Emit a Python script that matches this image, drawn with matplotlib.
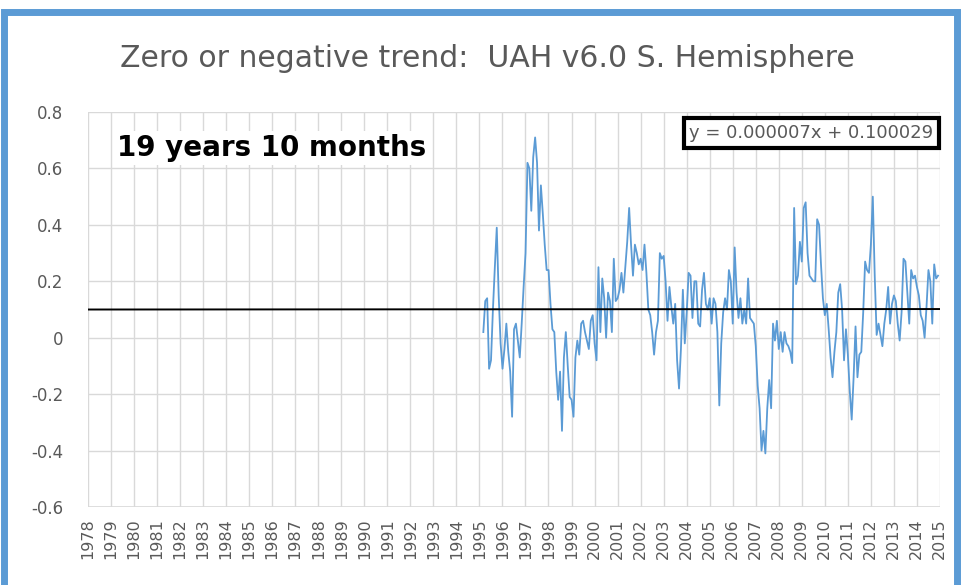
import matplotlib.pyplot as plt
from matplotlib.patches import Rectangle

# UAH v6.0 southern hemisphere anomalies, monthly
start_year = 1995.17
anomaly = [
    0.02, 0.13, 0.14, -0.11, -0.08, 0.10, 0.25, 0.39, 0.15, -0.02,
    -0.11, -0.04, 0.05, -0.05, -0.12, -0.28, 0.03, 0.05, -0.01, -0.07,
    0.05, 0.18, 0.30, 0.62, 0.60, 0.45, 0.64, 0.71, 0.62, 0.38,
    0.54, 0.44, 0.33, 0.24, 0.24, 0.12, 0.03, 0.02, -0.12, -0.22,
    -0.12, -0.33, -0.07, 0.02, -0.10, -0.21, -0.22, -0.28, -0.07, -0.01,
    -0.06, 0.05, 0.06, 0.02, -0.01, -0.04, 0.06, 0.08, -0.02, -0.08,
    0.25, 0.02, 0.21, 0.14, 0.00, 0.16, 0.13, 0.02, 0.28, 0.13,
    0.14, 0.17, 0.23, 0.16, 0.25, 0.34, 0.46, 0.33, 0.22, 0.33,
    0.30, 0.26, 0.28, 0.24, 0.33, 0.23, 0.10, 0.08, 0.02, -0.06,
    0.02, 0.06, 0.30, 0.28, 0.29, 0.20, 0.06, 0.18, 0.11, 0.05,
    0.12, -0.08, -0.18, -0.04, 0.17, -0.02, 0.09, 0.23, 0.22, 0.07,
    0.20, 0.20, 0.05, 0.04, 0.17, 0.23, 0.12, 0.10, 0.14, 0.05,
    0.14, 0.12, 0.02, -0.24, -0.02, 0.09, 0.14, 0.10, 0.24, 0.20,
    0.05, 0.32, 0.16, 0.07, 0.14, 0.05, 0.10, 0.05, 0.21, 0.07,
    0.06, 0.05, -0.03, -0.17, -0.25, -0.40, -0.33, -0.41, -0.25, -0.15,
    -0.25, 0.05, -0.01, 0.06, -0.04, 0.02, -0.05, 0.02, -0.02, -0.03,
    -0.05, -0.09, 0.46, 0.19, 0.22, 0.34, 0.27, 0.46, 0.48, 0.30,
    0.22, 0.21, 0.20, 0.20, 0.42, 0.40, 0.26, 0.14, 0.08, 0.12,
    0.03, -0.07, -0.14, -0.05, 0.02, 0.16, 0.19, 0.10, -0.08, 0.03,
    -0.06, -0.19, -0.29, -0.14, 0.04, -0.14, -0.06, -0.05, 0.09, 0.27,
    0.24, 0.23, 0.33, 0.50, 0.22, 0.01, 0.05, 0.01, -0.03, 0.05,
    0.10, 0.18, 0.05, 0.12, 0.15, 0.13, 0.05, -0.01, 0.09, 0.28,
    0.27, 0.16, 0.05, 0.24, 0.21, 0.22, 0.18, 0.15, 0.08, 0.06,
    0.00, 0.11, 0.24, 0.20, 0.05, 0.26, 0.21, 0.22,
]
months = [start_year + i / 12 for i in range(len(anomaly))]

trend_slope = 0.000007
trend_intercept = 0.100029
years = list(range(1978, 2016))
y_ticks = [-0.6, -0.4, -0.2, 0, 0.2, 0.4, 0.6, 0.8]
y_labels = ['-0.6', '-0.4', '-0.2', '0', '0.2', '0.4', '0.6', '0.8']

gray = '#595959'
fig = plt.figure(figsize=(9.62, 5.85), dpi=100)
ax = fig.add_axes([0.0915, 0.1333, 0.8855, 0.6752])

ax.plot(months, anomaly, color='#5B9BD5', lw=1.3, zorder=3)
ax.plot([years[0], years[-1]],
        [trend_intercept, trend_intercept + trend_slope * len(anomaly)],
        color='black', lw=1.4, zorder=4)

ax.set_xlim(years[0], years[-1])
ax.set_ylim(-0.6, 0.8)
ax.set_xticks(years)
ax.set_xticklabels([str(y) for y in years], rotation=90, fontsize=11.5, color=gray)
ax.set_yticks(y_ticks)
ax.set_yticklabels(y_labels, fontsize=12, color=gray)
ax.tick_params(length=0)
ax.tick_params(axis='y', pad=18)
ax.tick_params(axis='x', pad=8)
ax.grid(True, color='#D9D9D9', lw=1)
for s in ax.spines.values():
    s.set_visible(False)
ax.axhline(-0.6, color='#D9D9D9', lw=1.2)

ax.text(0.034, 0.909, '19 years 10 months', transform=ax.transAxes,
        fontsize=20, fontweight='bold', va='center', ha='left', zorder=5,
        bbox=dict(facecolor='white', edgecolor='none', pad=2))
ax.text(0.849, 0.947, 'y = 0.000007x + 0.100029', transform=ax.transAxes,
        fontsize=13, color=gray, va='center', ha='center', zorder=5,
        bbox=dict(facecolor='white', edgecolor='black', lw=3, pad=4))

fig.text(0.507, 0.90, 'Zero or negative trend:  UAH v6.0 S. Hemisphere',
         fontsize=21.5, color=gray, ha='center', va='center')

fig.patches.append(Rectangle((0.004, -0.05), 0.991, 1.03, transform=fig.transFigure,
                             fill=False, edgecolor='#5B9BD5', lw=5))

fig.savefig('out.png', dpi=100, facecolor='white')
